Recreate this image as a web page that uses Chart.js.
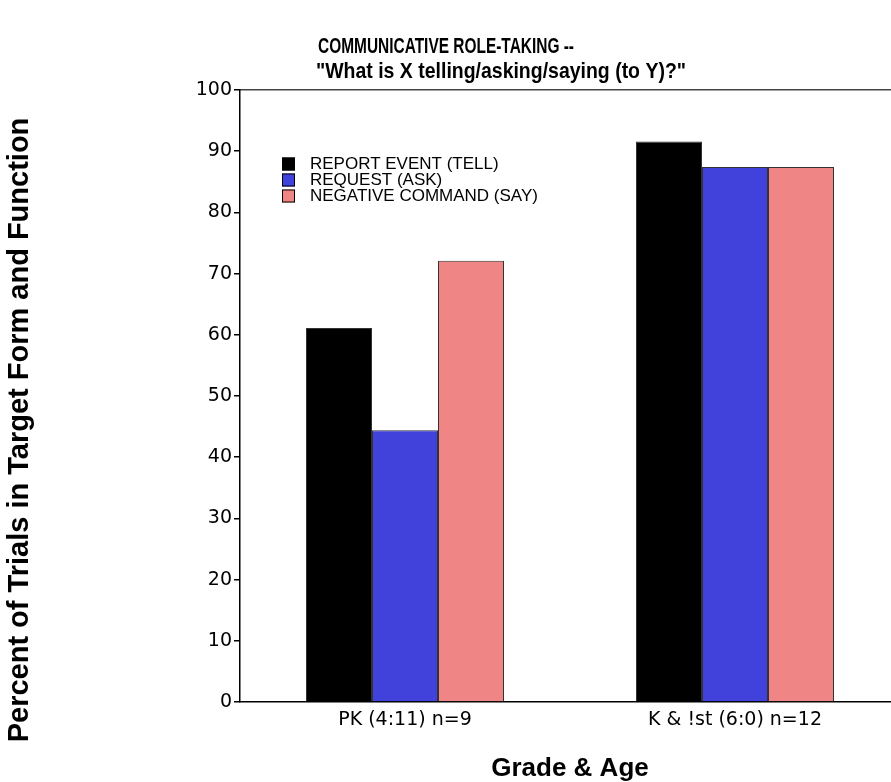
<!DOCTYPE html>
<html>
<head>
<meta charset="utf-8">
<script src="https://cdn.jsdelivr.net/npm/chart.js@4.4.0/dist/chart.umd.min.js"></script>
<style>
  html, body { margin: 0; padding: 0; background: #fff; overflow: hidden; }
  #wrap { width: 910px; height: 782px; }
</style>
</head>
<body>
<div id="wrap"><canvas id="chart"></canvas></div>
<script>
const categories = ['PK (4:11) n=9', 'K & !st (6:0) n=12'];
const seriesNames = ['REPORT EVENT (TELL)', 'REQUEST (ASK)', 'NEGATIVE COMMAND (SAY)'];
const reportEvent = [61.1, 91.6];
const request = [44.4, 87.4];
const negativeCommand = [72.1, 87.4];
const seriesColors = ['#000000', '#4141dc', '#ef8585'];
const titleLines = ['COMMUNICATIVE ROLE-TAKING --', '"What is X telling/asking/saying (to Y)?"'];
const yTitle = 'Percent of Trials in Target Form and Function';
const xTitle = 'Grade & Age';

const boldFont = "'Liberation Sans', Arial, sans-serif";
const tickFont = "'DejaVu Sans', sans-serif";

// chart title (condensed, left-aligned lines) and the y title, drawn by hand
const titlePlugin = {
  id: 'handTitles',
  afterDraw(chart) {
    const ctx = chart.ctx;
    ctx.save();
    ctx.fillStyle = '#000';
    ctx.textBaseline = 'middle';
    ctx.textAlign = 'left';
    ctx.font = 'bold 22px ' + boldFont;
    ctx.fillText(titleLines[0], 318, 47, 256);
    ctx.fillText(titleLines[1], 316, 72, 370);

    ctx.translate(20, 430);
    ctx.rotate(-Math.PI / 2);
    ctx.textAlign = 'center';
    ctx.font = 'bold 29px ' + boldFont;
    ctx.fillText(yTitle, 0, 0);
    ctx.restore();
  }
};

// legend sits inside the plot, top-left
const boxLegend = {
  id: 'boxLegend',
  afterDraw(chart) {
    const ctx = chart.ctx;
    const x = chart.chartArea.left + 42;
    let y = chart.chartArea.top + 74;
    ctx.save();
    ctx.font = '17px ' + boldFont;
    ctx.textBaseline = 'middle';
    chart.data.datasets.forEach(ds => {
      ctx.fillStyle = ds.backgroundColor;
      ctx.fillRect(x, y - 6.5, 13, 13);
      ctx.strokeStyle = '#000';
      ctx.lineWidth = 1;
      ctx.strokeRect(x + 0.5, y - 6, 12, 12);
      ctx.fillStyle = '#000';
      ctx.fillText(ds.label, x + 28, y);
      y += 16;
    });
    ctx.restore();
  }
};

const values = [reportEvent, request, negativeCommand];

new Chart(document.getElementById('chart'), {
  type: 'bar',
  data: {
    labels: categories,
    datasets: seriesNames.map((name, i) => ({
      label: name,
      data: values[i],
      backgroundColor: seriesColors[i],
      borderColor: '#333',
      borderWidth: 1,
      categoryPercentage: 0.6,
      barPercentage: 1.0
    }))
  },
  options: {
    responsive: true,
    maintainAspectRatio: false,
    animation: false,
    layout: { padding: { left: 0, right: 10, top: 90, bottom: 0 } },
    plugins: {
      legend: { display: false },
      title: { display: false },
      tooltip: { enabled: false }
    },
    scales: {
      x: {
        grid: { display: false, drawTicks: false },
        border: { color: '#000', width: 1.5 },
        ticks: { color: '#000', font: { family: tickFont, size: 19 }, padding: 7 },
        title: {
          display: true, text: xTitle, color: '#000',
          font: { family: boldFont, size: 26, weight: 'bold', lineHeight: 1 },
          padding: { top: 0, bottom: 0 }
        },
        afterFit: s => { s.height = 80; }
      },
      xTop: {
        type: 'category',
        position: 'top',
        grid: { display: false, drawTicks: false },
        border: { color: '#444', width: 1.5 },
        ticks: { display: false },
        afterFit: s => { s.height = 0; }
      },
      y: {
        min: 0,
        max: 100,
        ticks: { stepSize: 10, color: '#000', font: { family: tickFont, size: 19 }, padding: 2 },
        grid: { drawOnChartArea: false, drawTicks: true, tickLength: 6, color: '#000', lineWidth: 1.5 },
        border: { color: '#000', width: 1.5 },
        afterFit: s => { s.width = 240; }
      }
    }
  },
  plugins: [titlePlugin, boxLegend]
});
</script>
</body>
</html>
